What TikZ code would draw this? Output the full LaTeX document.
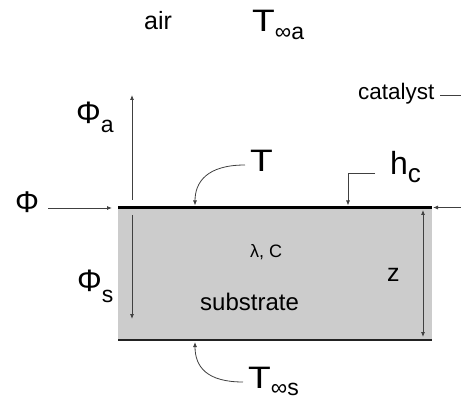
\documentclass[tikz,border=0pt]{standalone}
\usepackage{fontspec}
\usepackage{graphicx}
\setmainfont{Liberation Sans}
\usetikzlibrary{arrows.meta}
\definecolor{boxgray}{HTML}{CCCCCC}
\definecolor{linegray}{HTML}{404040}
\definecolor{darkline}{HTML}{222222}
\newcommand{\fsz}[1]{\fontsize{#1}{#1}\selectfont}
\newcommand{\widen}[1]{\scalebox{1.2}[1]{#1}}
\begin{document}
\begin{tikzpicture}[x=1pt,y=-1pt,
  lbl/.style={inner sep=0pt, anchor=base west},
  conn/.style={draw=linegray, line width=0.8pt, -{Latex[length=5pt,width=4pt]}},
  dconn/.style={draw=linegray, line width=0.8pt, {Latex[length=5pt,width=4pt]}-{Latex[length=5pt,width=4pt]}}]
\useasboundingbox (0,0) rectangle (461,401);
% layer
\coordinate (tl) at (118,207.5);
\coordinate (tr) at (432,207.5);
\coordinate (bl) at (118,340);
\coordinate (br) at (432,340);
\fill[boxgray] (118,208) rectangle (432,340);
\draw[line width=3pt] (tl) -- (tr);
\draw[line width=1.5pt, darkline] (bl) -- (br);

% labels
\node[lbl] (air) at (144,30) {\fsz{25}air};
\node[lbl] (Ta) at (252,32) {\fsz{31}\widen{T}\raisebox{-8pt}{\fsz{23}∞a}};
\node[lbl] (cat) at (358,100) {\fsz{22.5}catalyst};
\node[lbl] (Phi) at (15,213) {\fsz{30}Φ};
\node[lbl] (Phia) at (76,124) {\fsz{31}Φ\raisebox{-9pt}{\fsz{23}a}};
\node[lbl] (Phis) at (77,291) {\fsz{31}Φ\raisebox{-11pt}{\fsz{23}s}};
\node[lbl] (T) at (250,172) {\fsz{31}\widen{T}};
\node[lbl] (hc) at (390,175) {\fsz{32}h\raisebox{-8pt}{\fsz{26}c}};
\node[lbl] (lam) at (250,258) {\fsz{18}λ, C};
\node[lbl] (sub) at (200,310) {\fsz{24}substrate};
\node[lbl] (z) at (387,281) {\fsz{25}z};
\node[lbl] (Ts) at (248,388) {\fsz{31}\widen{T}\raisebox{-7pt}{\fsz{23}∞s}};

% connector end points
\coordinate (phiA) at (48,208);
\coordinate (phiB) at (112,208);
\coordinate (rA) at (461,207.5);
\coordinate (rB) at (433,207.5);
\coordinate (upA) at (132,200);
\coordinate (upB) at (132,95);
\coordinate (dnA) at (132,215);
\coordinate (dnB) at (132,319);
\coordinate (zA) at (423,210);
\coordinate (zB) at (423,337);
\coordinate (tA) at (245,165);
\coordinate (tB) at (195,205.5);
\coordinate (tsA) at (243,382);
\coordinate (tsB) at (195,342);
\coordinate (hA) at (375,173);
\coordinate (hB) at (348,205.5);
\coordinate (cA) at (440,95);
\coordinate (cB) at (461,95);

% connectors
\draw[conn] (phiA) -- (phiB);
\draw[conn] (rA) -- (rB);
\draw[conn] (upA) -- (upB);
\draw[conn] (dnA) -- (dnB);
\draw[dconn] (zA) -- (zB);
\draw[conn] (tA) .. controls (207,165) and (195,182) .. (tB);
\draw[conn] (tsA) .. controls (207,382) and (195,367) .. (tsB);
\draw[conn] (hA) -| (hB);
\draw[draw=linegray, line width=0.8pt] (cA) -- (cB);
\end{tikzpicture}
\end{document}
